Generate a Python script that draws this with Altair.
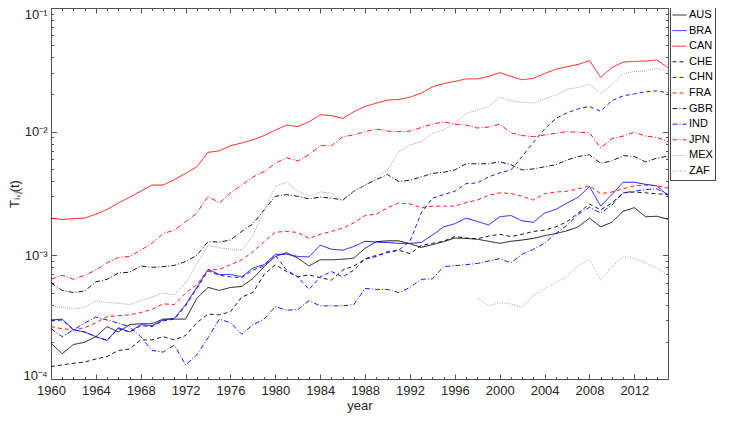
import altair as alt
import pandas as pd

# ---------------- data ----------------
YEARS = list(range(1960, 2016))
ZAF_YEARS = list(range(1998, 2016))
COUNTRIES = ["AUS", "BRA", "CAN", "CHE", "CHN", "FRA", "GBR", "IND", "JPN", "MEX", "ZAF"]

AUS = [1.95e-4, 1.6e-4, 1.9e-4, 1.98e-4, 2.2e-4, 2.65e-4, 2.4e-4, 2.75e-4, 2.8e-4, 2.8e-4,
       3.05e-4, 3.05e-4, 3.05e-4, 4.5e-4, 5.5e-4, 5.2e-4, 5.5e-4, 5.6e-4, 6.5e-4, 8.1e-4,
       9.8e-4, 1.05e-3, 9.5e-4, 8.2e-4, 9.2e-4, 9.2e-4, 9.3e-4, 9.5e-4, 1.14e-3, 1.29e-3,
       1.31e-3, 1.31e-3, 1.24e-3, 1.16e-3, 1.22e-3, 1.29e-3, 1.38e-3, 1.37e-3, 1.35e-3, 1.3e-3,
       1.25e-3, 1.3e-3, 1.33e-3, 1.37e-3, 1.44e-3, 1.5e-3, 1.58e-3, 1.7e-3, 2.0e-3, 1.7e-3,
       1.85e-3, 2.27e-3, 2.43e-3, 2.05e-3, 2.07e-3, 1.96e-3]
BRA = [3.0e-4, 3.05e-4, 2.5e-4, 2.4e-4, 2.2e-4, 2.05e-4, 2.6e-4, 2.4e-4, 2.75e-4, 2.7e-4,
       3.0e-4, 3.1e-4, 4.0e-4, 5.5e-4, 7.7e-4, 7.0e-4, 7.0e-4, 6.7e-4, 7.9e-4, 8.4e-4,
       1.02e-3, 1.02e-3, 9.8e-4, 9.7e-4, 1.21e-3, 1.12e-3, 1.1e-3, 1.18e-3, 1.3e-3, 1.28e-3,
       1.27e-3, 1.25e-3, 1.25e-3, 1.27e-3, 1.46e-3, 1.7e-3, 1.8e-3, 2.0e-3, 1.88e-3, 1.76e-3,
       2.05e-3, 2.1e-3, 1.9e-3, 1.85e-3, 2.2e-3, 2.35e-3, 2.65e-3, 2.95e-3, 3.6e-3, 2.5e-3,
       3.1e-3, 3.9e-3, 3.9e-3, 3.75e-3, 3.65e-3, 3.05e-3]
CAN = [2.0e-3, 1.95e-3, 1.98e-3, 2.0e-3, 2.15e-3, 2.35e-3, 2.65e-3, 2.95e-3, 3.3e-3, 3.7e-3,
       3.7e-3, 4.1e-3, 4.6e-3, 5.2e-3, 6.8e-3, 7.0e-3, 7.7e-3, 8.1e-3, 8.6e-3, 9.3e-3,
       1.03e-2, 1.13e-2, 1.1e-2, 1.2e-2, 1.37e-2, 1.35e-2, 1.28e-2, 1.45e-2, 1.6e-2, 1.7e-2,
       1.8e-2, 1.82e-2, 1.9e-2, 2.05e-2, 2.3e-2, 2.45e-2, 2.55e-2, 2.67e-2, 2.67e-2, 2.8e-2,
       3.0e-2, 2.8e-2, 2.63e-2, 2.7e-2, 2.95e-2, 3.2e-2, 3.35e-2, 3.5e-2, 3.75e-2, 2.75e-2,
       3.3e-2, 3.65e-2, 3.7e-2, 3.72e-2, 3.8e-2, 3.3e-2]
CHE = [1.26e-4, 1.3e-4, 1.34e-4, 1.37e-4, 1.45e-4, 1.52e-4, 1.7e-4, 1.75e-4, 2.07e-4, 2.07e-4,
       2.2e-4, 2.07e-4, 2.25e-4, 2.85e-4, 3.35e-4, 3.3e-4, 3.5e-4, 4.6e-4, 5.0e-4, 7.0e-4,
       8.4e-4, 7.4e-4, 6.7e-4, 6.95e-4, 6.6e-4, 6.3e-4, 7.6e-4, 8.2e-4, 9.3e-4, 9.8e-4,
       1.07e-3, 1.1e-3, 1.03e-3, 1.2e-3, 1.25e-3, 1.3e-3, 1.42e-3, 1.38e-3, 1.36e-3, 1.43e-3,
       1.48e-3, 1.42e-3, 1.48e-3, 1.56e-3, 1.6e-3, 1.7e-3, 1.87e-3, 2.2e-3, 2.6e-3, 2.33e-3,
       2.65e-3, 3.2e-3, 3.25e-3, 3.2e-3, 3.15e-3, 3.1e-3]
CHN = [2.95e-4, 3.0e-4, 2.5e-4, 2.4e-4, 2.2e-4, 2.05e-4, 2.55e-4, 2.4e-4, 2.7e-4, 2.65e-4,
       2.95e-4, 3.05e-4, 3.9e-4, 5.4e-4, 7.5e-4, 6.9e-4, 6.7e-4, 6.6e-4, 7.6e-4, 8.2e-4,
       1.0e-3, 7.6e-4, 6.7e-4, 5.3e-4, 6.7e-4, 7.4e-4, 6.7e-4, 7.6e-4, 9.4e-4, 1.0e-3,
       1.05e-3, 1.1e-3, 1.3e-3, 2.2e-3, 2.9e-3, 3.1e-3, 3.3e-3, 3.8e-3, 3.85e-3, 4.3e-3,
       4.65e-3, 4.9e-3, 6.3e-3, 8.2e-3, 1.05e-2, 1.28e-2, 1.42e-2, 1.53e-2, 1.6e-2, 1.46e-2,
       1.78e-2, 1.95e-2, 2.02e-2, 2.1e-2, 2.14e-2, 2.06e-2]
FRA = [2.65e-4, 2.55e-4, 2.5e-4, 2.6e-4, 2.85e-4, 3.2e-4, 3.25e-4, 3.3e-4, 3.45e-4, 3.65e-4,
       4.05e-4, 4.0e-4, 4.95e-4, 5.8e-4, 7.6e-4, 7.7e-4, 8.4e-4, 9.2e-4, 1.07e-3, 1.29e-3,
       1.54e-3, 1.56e-3, 1.53e-3, 1.37e-3, 1.48e-3, 1.56e-3, 1.66e-3, 1.83e-3, 2.1e-3, 2.15e-3,
       2.43e-3, 2.65e-3, 2.6e-3, 2.43e-3, 2.5e-3, 2.5e-3, 2.5e-3, 2.67e-3, 2.8e-3, 3.05e-3,
       3.2e-3, 3.17e-3, 3.0e-3, 2.8e-3, 3.15e-3, 3.25e-3, 3.3e-3, 3.45e-3, 3.65e-3, 3.15e-3,
       3.25e-3, 3.45e-3, 3.65e-3, 3.7e-3, 3.65e-3, 3.5e-3]
GBR = [6.0e-4, 5.2e-4, 5.0e-4, 5.15e-4, 6.1e-4, 6.4e-4, 7.2e-4, 7.3e-4, 8.2e-4, 8.0e-4,
       8.1e-4, 8.3e-4, 8.9e-4, 1.0e-3, 1.29e-3, 1.28e-3, 1.33e-3, 1.56e-3, 1.8e-3, 2.33e-3,
       3.0e-3, 3.1e-3, 3.0e-3, 2.86e-3, 2.96e-3, 2.9e-3, 2.8e-3, 3.3e-3, 3.7e-3, 4.1e-3,
       4.5e-3, 3.95e-3, 4.05e-3, 4.3e-3, 4.6e-3, 4.7e-3, 4.9e-3, 5.5e-3, 5.5e-3, 5.5e-3,
       5.7e-3, 5.4e-3, 4.9e-3, 5.0e-3, 5.2e-3, 5.4e-3, 5.9e-3, 6.3e-3, 6.5e-3, 5.55e-3,
       5.8e-3, 6.4e-3, 6.3e-3, 5.7e-3, 6.1e-3, 6.35e-3]
IND = [2.55e-4, 2.2e-4, 2.5e-4, 2.83e-4, 3.17e-4, 3.0e-4, 2.83e-4, 2.65e-4, 2.2e-4, 1.7e-4,
       1.65e-4, 1.88e-4, 1.3e-4, 1.57e-4, 2.15e-4, 3.05e-4, 2.85e-4, 2.3e-4, 2.75e-4, 3.05e-4,
       3.85e-4, 3.6e-4, 3.65e-4, 4.3e-4, 3.9e-4, 3.9e-4, 3.9e-4, 4.0e-4, 5.4e-4, 5.3e-4,
       5.3e-4, 5.0e-4, 5.5e-4, 6.4e-4, 6.45e-4, 8.1e-4, 8.25e-4, 8.4e-4, 8.6e-4, 9.0e-4,
       9.4e-4, 8.7e-4, 1.02e-3, 1.12e-3, 1.25e-3, 1.5e-3, 1.75e-3, 2.15e-3, 2.45e-3, 2.2e-3,
       2.55e-3, 3.2e-3, 3.3e-3, 3.4e-3, 3.45e-3, 3.1e-3]
JPN = [6.4e-4, 6.9e-4, 6.4e-4, 6.9e-4, 7.6e-4, 8.7e-4, 9.6e-4, 9.8e-4, 1.1e-3, 1.25e-3,
       1.5e-3, 1.6e-3, 1.87e-3, 2.2e-3, 3.0e-3, 2.65e-3, 3.2e-3, 3.7e-3, 4.3e-3, 4.75e-3,
       5.55e-3, 6.15e-3, 5.8e-3, 6.5e-3, 7.7e-3, 7.7e-3, 9.1e-3, 9.4e-3, 1.0e-2, 1.05e-2,
       1.01e-2, 1.0e-2, 1.01e-2, 1.08e-2, 1.15e-2, 1.2e-2, 1.15e-2, 1.13e-2, 1.07e-2, 1.09e-2,
       1.15e-2, 9.8e-3, 9.3e-3, 9.1e-3, 9.4e-3, 9.7e-3, 1.0e-2, 9.9e-3, 9.8e-3, 7.4e-3,
       8.8e-3, 9.2e-3, 9.9e-3, 9.2e-3, 9.0e-3, 8.3e-3]
MEX = [3.9e-4, 3.8e-4, 3.7e-4, 3.8e-4, 4.3e-4, 4.15e-4, 4.1e-4, 4.0e-4, 4.3e-4, 4.6e-4,
       4.95e-4, 4.8e-4, 6.0e-4, 8.5e-4, 1.2e-3, 1.15e-3, 1.12e-3, 1.1e-3, 1.45e-3, 2.3e-3,
       3.6e-3, 3.9e-3, 3.3e-3, 3.0e-3, 3.25e-3, 3.2e-3, 2.75e-3, 3.3e-3, 3.7e-3, 4.3e-3,
       4.9e-3, 6.9e-3, 7.8e-3, 8.3e-3, 9.7e-3, 1.03e-2, 1.17e-2, 1.4e-2, 1.5e-2, 1.6e-2,
       1.9e-2, 1.78e-2, 1.73e-2, 1.7e-2, 1.85e-2, 1.98e-2, 2.2e-2, 2.28e-2, 2.42e-2, 2.04e-2,
       2.4e-2, 2.95e-2, 3.07e-2, 3.1e-2, 3.25e-2, 3.1e-2]
ZAF = [4.5e-4, 3.9e-4, 4.15e-4, 4.05e-4, 3.8e-4, 4.75e-4, 5.4e-4, 6.0e-4, 6.8e-4, 8.2e-4,
       9.3e-4, 6.3e-4, 8.1e-4, 9.8e-4, 9.5e-4, 8.7e-4, 7.9e-4, 6.9e-4]

X_MAJOR = list(range(1960, 2013, 4))
X_MINOR = list(range(1960, 2016))
Y_MAJOR = [1e-4, 1e-3, 1e-2]
Y_TOP = [1e-1]
Y_LABELS = ["10\u207b\u2074", "10\u207b\u00b3", "10\u207b\u00b2", "10\u207b\u00b9"]
Y_MINOR = [k * m for m in (1e-4, 1e-3, 1e-2) for k in range(2, 10)]

# ---------------- styles ----------------
COLORS = ["#000000", "#0000ff", "#ff0000", "#000000", "#0000ff", "#ff0000",
          "#000000", "#0000ff", "#ff0000", "#a0a0a0", "#8c8cff"]
DASHES = [[1, 0], [1, 0], [1, 0], [4, 3], [4, 3], [4, 3],
          [5, 2, 1, 2], [5, 2, 1, 2], [5, 2, 1, 2], [1, 1], [1, 1.5]]

series = {"AUS": AUS, "BRA": BRA, "CAN": CAN, "CHE": CHE, "CHN": CHN, "FRA": FRA,
          "GBR": GBR, "IND": IND, "JPN": JPN, "MEX": MEX, "ZAF": ZAF}
rows = []
for c in COUNTRIES:
    yrs = ZAF_YEARS if c == "ZAF" else YEARS
    for yr, v in zip(yrs, series[c]):
        rows.append({"country": c, "year": yr, "value": v})
df = pd.DataFrame(rows)
dummy = pd.DataFrame({"year": [1960], "value": [1e-3]})

W, H = 617, 371
FONT = "Liberation Sans"


def label_expr():
    vals = Y_MAJOR + Y_TOP
    e = "'" + Y_LABELS[-1] + "'"
    for v, lab in reversed(list(zip(vals[:-1], Y_LABELS[:-1]))):
        e = "datum.value < %g ? '%s' : %s" % (v * 3, lab, e)
    return e


LEXPR = label_expr()

xs = alt.Scale(domain=[1960, 2015], nice=False, zero=False)
ys = alt.Scale(type="log", domain=[1e-4, 1e-1], nice=False)


def tick_axis(orient, values, size, offset):
    return alt.Axis(orient=orient, values=values, tickSize=size, offset=offset,
                    labels=False, domain=False, grid=False, title=None)


legend = alt.Legend(title=None, orient="none", legendX=W + 2, legendY=-2,
                    symbolType="stroke", symbolSize=196, symbolStrokeWidth=1,
                    labelFont=FONT, labelFontSize=11, labelColor="#000000",
                    labelAlign="left", labelOffset=2, padding=2, rowPadding=1.6,
                    clipHeight=14, columnPadding=0,
                    strokeColor="#444444", fillColor="#ffffff")

lines = alt.Chart(df).mark_line(strokeWidth=1, clip=True, opacity=0.9).encode(
    x=alt.X("year:Q", scale=xs,
            axis=alt.Axis(orient="bottom", values=X_MAJOR, format="d", ticks=False,
                          domain=False, grid=False, labelPadding=5, labelFlush=False,
                          title="year", titleX=W / 2, titleY=30,
                          titleBaseline="alphabetic", titleAlign="center")),
    y=alt.Y("value:Q", scale=ys,
            axis=alt.Axis(orient="left", values=Y_MAJOR, labelExpr=LEXPR, ticks=False,
                          domain=False, grid=False, labelPadding=4, labelFlush=True,
                          labelFlushOffset=3,
                          title="T\u1d62,\u2c7c(t)", titleX=-37, titleY=H / 2,
                          titleAngle=-90, titleAlign="center", titleBaseline="middle")),
    color=alt.Color("country:N", scale=alt.Scale(domain=COUNTRIES, range=COLORS),
                    legend=legend),
    strokeDash=alt.StrokeDash("country:N", scale=alt.Scale(domain=COUNTRIES, range=DASHES),
                              legend=legend),
)


def dummy_layer(xaxis, yaxis):
    return alt.Chart(dummy).mark_point(opacity=0, size=1).encode(
        x=alt.X("year:Q", scale=xs, axis=xaxis),
        y=alt.Y("value:Q", scale=ys, axis=yaxis),
    )


l2 = dummy_layer(tick_axis("top", X_MAJOR, 5, -H), tick_axis("right", Y_MAJOR + Y_TOP, 5.5, -W))
l3 = dummy_layer(tick_axis("top", X_MINOR, 2.5, -H), tick_axis("right", Y_MINOR, 2.5, -W))
l4 = dummy_layer(tick_axis("bottom", X_MAJOR, 5, -H), tick_axis("left", Y_MAJOR + Y_TOP, 5.5, -W))
l5 = dummy_layer(tick_axis("bottom", X_MINOR, 2.5, -H), tick_axis("left", Y_MINOR, 2.5, -W))
l6 = dummy_layer(None, alt.Axis(orient="left", values=Y_TOP, labelExpr=LEXPR, ticks=False,
                                domain=False, grid=False, labelPadding=4, title=None,
                                labelFlush=True, labelFlushOffset=0))

chart = alt.layer(lines, l2, l3, l4, l5, l6).resolve_axis(
    x="independent", y="independent"
).properties(
    width=W, height=H,
    autosize=alt.AutoSizeParams(type="none"),
    padding={"left": 43, "top": 0, "right": 717 - 43 - W, "bottom": 34},
).configure_view(
    stroke="#555555", strokeWidth=1
).configure_axis(
    tickColor="#555555", tickWidth=1,
    labelFont=FONT, labelFontSize=13, labelColor="#262626",
    titleFont=FONT, titleFontSize=13, titleFontWeight="normal", titleColor="#262626",
)

chart.save("out.html", embed_options={"renderer": "svg", "actions": False})
